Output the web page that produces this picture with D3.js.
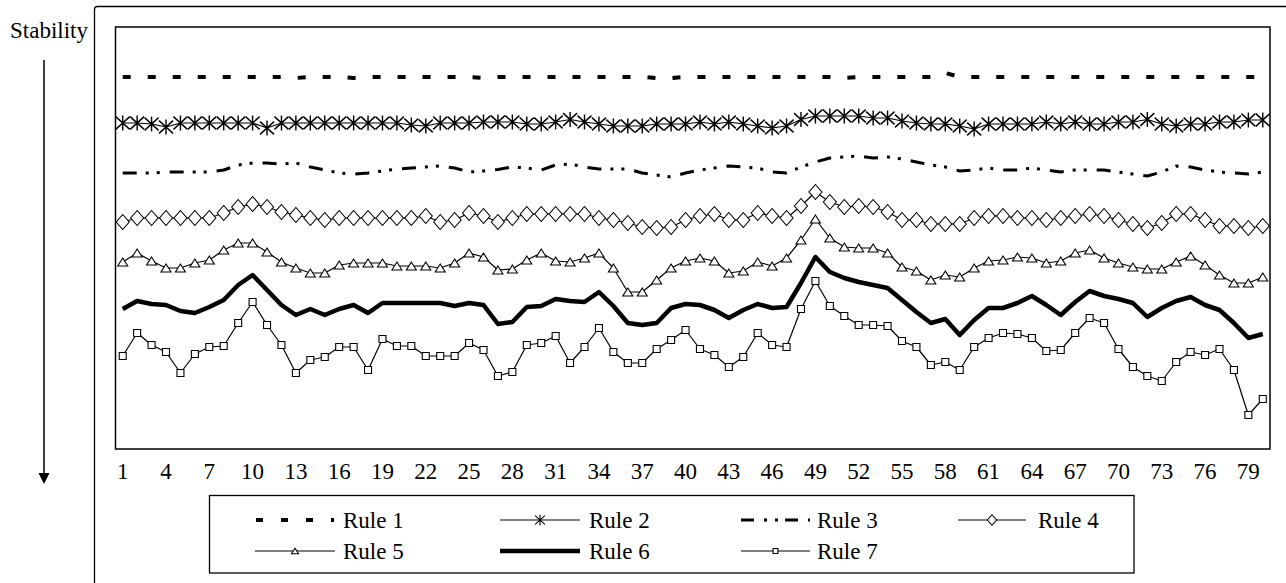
<!DOCTYPE html>
<html>
<head>
<meta charset="utf-8">
<script src="https://cdn.jsdelivr.net/npm/d3@7"></script>
<style>
  body { margin: 0; background: #fff; }
  text { font-family: "Liberation Serif", "DejaVu Serif", serif; fill: #000; }
</style>
</head>
<body>
<div id="chart"></div>
<script>
// categories (run number) and the tick labels shown under the plot
const runs = d3.range(1, 81);
const tickLabels = [1, 4, 7, 10, 13, 16, 19, 22, 25, 28, 31, 34, 37, 40, 43, 46, 49, 52, 55, 58, 61, 64, 67, 70, 73, 76, 79];

// stability per rule (axis runs downwards, 0 at the top of the plot)
const rule1 = [50,50,50,50,50,50,50,50,50,50,50,50,51,50,50,50,51,50,50,50,50,50,50,50,50,51,50,50,50,50,50,50,50,50,50,50,50,51,51,50,50,50,50,50,50,50,50,50,50,50,51,50,50,50,50,50,50,46,50,50,50,50,50,50,50,50,50,50,50,50,50,50,50,50,50,50,50,50,50,50];
const rule2 = [96,96,97,100,96,96,96,96,96,96,101,96,96,96,96,96,96,96,96,96,98,99,96,96,96,95,95,95,97,97,95,92.5,95,97,99,99,99,97,97,97,95,97,95,97,99,101,99,92.5,89,89,89,89,91,91,94,96,97,97,99,102,97,97,97,97,95,97,95,97,97,95,95,92.5,97,99,97,97,95,95,93,93];
const rule3 = [146,146,146,145,145,145,145,143,138,136,136,137,136,140,143,146,147,146,144,142,141,140,139,141,145,144,142.5,140,141,143,138,137,140,142,142,142,146,148,150,146,143,141,139,140,141,145,146,140,135,131,130,129,131,130,132,135,138,140,144,143,141,143,143,141,143,145,143,143,143,145,147,149,145,139,140,143,145,146,147,145];
const rule4 = [195,191,191,191,191,191,191,186,180,177,180,185,188,191,193,191,191,191,191,191,191,189,195,193,186,189,195,191,187,187,187,187,187,191,193,196,200,201,200,193,189,187,193,193,186,189,191,179,165,175,180,179,180,185,193,193,197,197,197,191,189,189,191,191,193,191,189,187,189,193,197,201,196,187,187,193,199,199,201,199];
const rule5 = [235,226,234,241,241,236,233,223,216,216,225,235,241,246,246,238,236,236,236,239,239,239,241,236,226,230,243,242,233,226,234,235,231,226,241,265,265,253,241,234,231,234,246,244,235,239,231,213,192,211,220,221,221,226,240,244,253,248,250,241,234,233,230,231,236,234,226,223,231,236,240,242,242,235,229,238,248,256,256,250];
const rule6 = [282,274,277,278,284,286,280,273,258,248,263,278,288,282,288,282,278,286,276,276,276,276,276,279,276,278,297,295,280,279,272,274,275,265,279,296,298,296,281,277,278,283,291,283,277,281,280,256,230,245,251,255,258,261,273,285,296,292,308,293,281,281,276,269,278,288,275,264,269,272,276,290,281,274,270,278,283,296,311,307];
const rule7 = [329,306,318,325,346,327,320,319,296,275,298,318,346,333,330,320,320,343,312,319,319,329,329,329,316,323,349,345,318,316,309,336,320,301,325,336,336,322,313,303,322,328,340,330,306,318,320,282,254,279,289,298,298,299,314,320,338,335,343,320,311,306,307,311,324,323,306,291,296,322,340,349,354,335,325,328,322,343,388,372];

const seriesNames = ["Rule 1", "Rule 2", "Rule 3", "Rule 4", "Rule 5", "Rule 6", "Rule 7"];

const W = 1286, H = 583;
const plot = {left: 115.5, top: 27, right: 1270, bottom: 449};
const serif = "'Liberation Serif', 'DejaVu Serif', serif";

const svg = d3.select("#chart")
  .append("svg")
    .attr("width", W)
    .attr("height", H);

// outer chart frame (only left and top edges fall inside the picture)
svg.append("rect")
  .attr("x", 94.5).attr("y", 6.5)
  .attr("width", 1220).attr("height", 600)
  .attr("rx", 3)
  .attr("fill", "none").attr("stroke", "#000").attr("stroke-width", 1.3);

const x = d3.scaleBand()
  .domain(runs)
  .range([plot.left, plot.right])
  .padding(0);

const y = d3.scaleLinear()
  .domain([0, 422])
  .range([plot.top, plot.bottom]);

const cx = d => x(d) + x.bandwidth() / 2;

// plot area border
svg.append("rect")
  .attr("x", plot.left).attr("y", plot.top)
  .attr("width", plot.right - plot.left).attr("height", plot.bottom - plot.top)
  .attr("fill", "none").attr("stroke", "#000").attr("stroke-width", 1.5);

// x axis labels only
const xAxis = svg.append("g")
  .attr("transform", `translate(0, ${plot.bottom})`)
  .call(d3.axisBottom(x).tickValues(tickLabels).tickSize(0).tickPadding(14));
xAxis.attr("font-family", serif).attr("font-size", 23);
xAxis.select(".domain").remove();
xAxis.selectAll("text")
  .style("font-family", serif)
  .style("font-size", "23px")
  .attr("fill", "#000");

// marker shapes
function markerPath(type, s) {
  if (type === "star") {
    const w = 7 * s, h = 7.5 * s;
    return `M0,${-h}L0,${h}M${-w},${-h * 0.85}L${w},${h * 0.85}M${-w},${h * 0.85}L${w},${-h * 0.85}`;
  }
  if (type === "diamond") {
    const w = 6.5 * s, h = 7.5 * s;
    return `M0,${-h}L${w},0L0,${h}L${-w},0Z`;
  }
  if (type === "triangle") {
    const w = 5 * s, h = 4 * s;
    return `M0,${-h}L${w},${h}L${-w},${h}Z`;
  }
  if (type === "square") {
    const a = 3.5 * s;
    return `M${-a},${-a}H${a}V${a}H${-a}Z`;
  }
  return "";
}

const styles = [
  {data: rule1, width: 4,   dash: "8,17",              marker: null},
  {data: rule2, width: 1.2, dash: null,                marker: "star"},
  {data: rule3, width: 3,   dash: "14,9,3,8,3,10",     marker: null},
  {data: rule4, width: 1.2, dash: null,                marker: "diamond"},
  {data: rule5, width: 1.2, dash: null,                marker: "triangle"},
  {data: rule6, width: 4.5, dash: null,                marker: null},
  {data: rule7, width: 1.2, dash: null,                marker: "square"}
];

const line = d3.line()
  .x((d, i) => cx(runs[i]))
  .y(d => y(d));

styles.forEach(s => {
  svg.append("path")
    .datum(s.data)
    .attr("fill", "none")
    .attr("stroke", "#000")
    .attr("stroke-width", s.width)
    .attr("stroke-linejoin", "round")
    .attr("stroke-dasharray", s.dash)
    .attr("d", line);

  if (s.marker) {
    svg.append("g")
      .selectAll("path")
      .data(s.data)
      .join("path")
        .attr("transform", (d, i) => `translate(${cx(runs[i])},${y(d)})`)
        .attr("d", markerPath(s.marker, 1))
        .attr("fill", s.marker === "star" ? "none" : "#fff")
        .attr("stroke", "#000")
        .attr("stroke-width", s.marker === "star" ? 1.4 : 1.1);
  }
});

// axis title and direction arrow
svg.append("text")
  .attr("x", 10).attr("y", 38)
  .style("font-family", serif)
  .style("font-size", "23px")
  .text("Stability");

svg.append("line")
  .attr("x1", 44).attr("x2", 44)
  .attr("y1", 60).attr("y2", 474)
  .attr("stroke", "#000").attr("stroke-width", 1.5);
svg.append("path")
  .attr("d", "M38.5,473L49.5,473L44,484Z")
  .attr("fill", "#000");

// legend
const legend = svg.append("g");
legend.append("rect")
  .attr("x", 209.5).attr("y", 495.5)
  .attr("width", 924.5).attr("height", 77.5)
  .attr("fill", "#fff").attr("stroke", "#000").attr("stroke-width", 1.3);

const legendPos = [
  {x0: 256, x1: 334, tx: 343, row: 0},
  {x0: 500, x1: 580, tx: 589, row: 0},
  {x0: 741, x1: 810, tx: 817, row: 0},
  {x0: 958, x1: 1026, tx: 1038, row: 0},
  {x0: 255, x1: 335, tx: 343, row: 1},
  {x0: 500, x1: 580, tx: 589, row: 1},
  {x0: 741, x1: 810, tx: 817, row: 1}
];
const legendDash = ["7,18", null, "13,10,3,8,3,7", null, null, null, null];
const rowY = [520, 551];

seriesNames.forEach((name, i) => {
  const p = legendPos[i], s = styles[i], ly = rowY[p.row];
  legend.append("line")
    .attr("x1", p.x0).attr("x2", p.x1)
    .attr("y1", ly).attr("y2", ly)
    .attr("stroke", "#000")
    .attr("stroke-width", s.width)
    .attr("stroke-dasharray", legendDash[i]);
  if (s.marker) {
    legend.append("path")
      .attr("transform", `translate(${(p.x0 + p.x1) / 2},${ly})`)
      .attr("d", markerPath(s.marker, 0.7))
      .attr("fill", s.marker === "star" ? "none" : "#fff")
      .attr("stroke", "#000")
      .attr("stroke-width", 1.1);
  }
  legend.append("text")
    .attr("x", p.tx).attr("y", ly + 7.5)
    .style("font-family", serif)
    .style("font-size", "23px")
    .text(name);
});
</script>
</body>
</html>
